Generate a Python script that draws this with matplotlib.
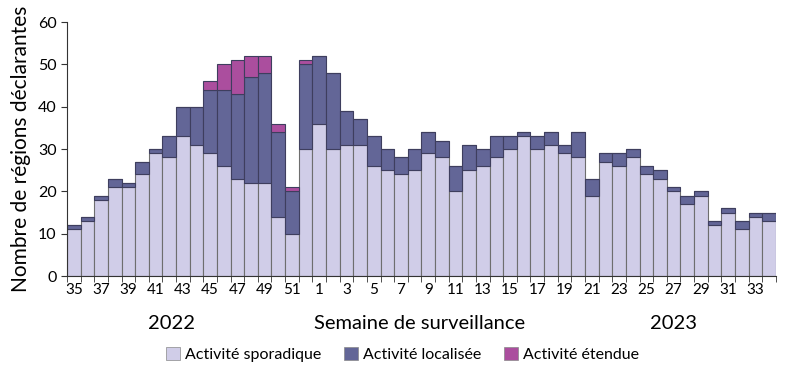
import numpy as np
import matplotlib.pyplot as plt
from matplotlib.patches import Patch

# surveillance weeks: 35-52 of 2022 then 1-34 of 2023
weeks = list(range(35, 53)) + list(range(1, 35))

sporadique = [11, 13, 18, 21, 21, 24, 29, 28, 33, 31, 29, 26, 23, 22, 22, 14, 10, 30,
              36, 30, 31, 31, 26, 25, 24, 25, 29, 28, 20, 25, 26, 28, 30, 33, 30, 31,
              29, 28, 19, 27, 26, 28, 24, 23, 20, 17, 19, 12, 15, 11, 14, 13]
localisee = [1, 1, 1, 2, 1, 3, 1, 5, 7, 9, 15, 18, 20, 25, 26, 20, 10, 20,
             16, 18, 8, 6, 7, 5, 4, 5, 5, 4, 6, 6, 4, 5, 3, 1, 3, 3,
             2, 6, 4, 2, 3, 2, 2, 2, 1, 2, 1, 1, 1, 2, 1, 2]
etendue = [0, 0, 0, 0, 0, 0, 0, 0, 0, 0, 2, 6, 8, 5, 4, 2, 1, 1,
           0, 0, 0, 0, 0, 0, 0, 0, 0, 0, 0, 0, 0, 0, 0, 0, 0, 0,
           0, 0, 0, 0, 0, 0, 0, 0, 0, 0, 0, 0, 0, 0, 0, 0]

legend_labels = ['Activité sporadique', 'Activité localisée', 'Activité étendue']
colors = ['#d0cde8', '#636697', '#ab4e9e']

plt.rcParams['font.family'] = ['Lato', 'DejaVu Sans']

fig = plt.figure(figsize=(7.92, 3.73), dpi=100)
ax = fig.add_axes([0.0846, 0.26, 0.895, 0.681])

x = np.arange(len(weeks))
spo = np.array(sporadique)
loc = np.array(localisee)
ete = np.array(etendue)

ax.bar(x, spo, width=1.0, color=colors[0], edgecolor='#6e6e6e', linewidth=0.8)
ax.bar(x, loc, width=1.0, bottom=spo, color=colors[1], edgecolor='#3e3e5e', linewidth=0.8)
ax.bar(x, ete, width=1.0, bottom=spo + loc, color=colors[2], edgecolor='#3e3e5e', linewidth=0.8)

ax.set_xlim(-0.5, len(weeks) - 0.5)
ax.set_ylim(0, 60)
ax.set_yticks(range(0, 61, 10))
ax.tick_params(axis='y', labelsize=11.5, length=4, color='#333333')

# labels every other week, tick marks at bar boundaries
ax.set_xticks(x[::2])
ax.set_xticklabels([str(w) for w in weeks[::2]], fontsize=11)
ax.tick_params(axis='x', which='major', length=0, pad=5)
ax.set_xticks(np.arange(-0.5, len(weeks), 1), minor=True)
ax.tick_params(axis='x', which='minor', length=4, color='#333333')

for s in ['top', 'right']:
    ax.spines[s].set_visible(False)
for s in ['left', 'bottom']:
    ax.spines[s].set_color('#333333')

ax.set_ylabel('Nombre de régions déclarantes', fontsize=15, labelpad=5)

fig.text(0.217, 0.134, '2022', fontsize=14.5, ha='center', va='center')
fig.text(0.53, 0.134, 'Semaine de surveillance', fontsize=14.5, ha='center', va='center')
fig.text(0.85, 0.134, '2023', fontsize=14.5, ha='center', va='center')

handles = [Patch(facecolor=c, edgecolor='#888888', linewidth=0.5) for c in colors]
fig.legend(handles, legend_labels, loc='center', bbox_to_anchor=(0.508, 0.05), ncol=3,
           frameon=False, fontsize=11.5, handlelength=0.9, handleheight=0.9,
           handletextpad=0.3, columnspacing=1.4)

fig.savefig('out.png', dpi=100)
